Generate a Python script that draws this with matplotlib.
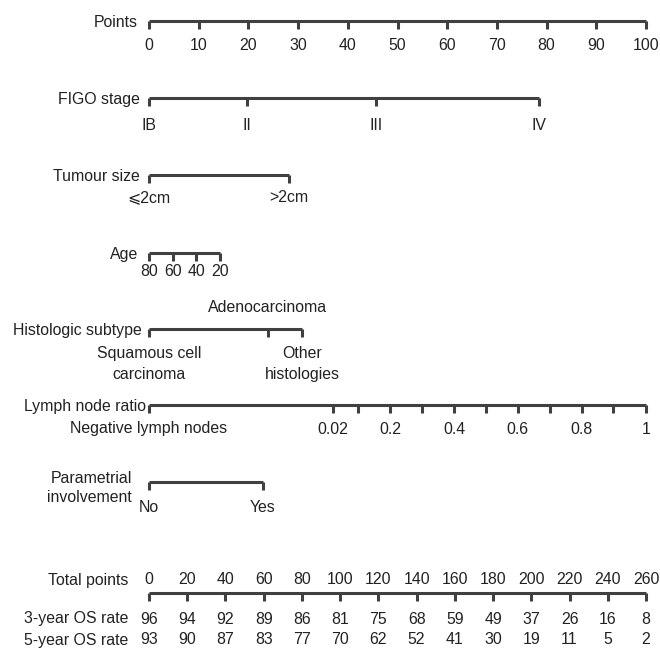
import matplotlib
matplotlib.use('Agg')
import matplotlib.pyplot as plt

plt.rcParams['font.family'] = ['Liberation Sans', 'DejaVu Sans']

# values (points scale 0-100)
points_ticks = [0, 10, 20, 30, 40, 50, 60, 70, 80, 90, 100]

figo_labels = ['IB', 'II', 'III', 'IV']
figo_points = [0, 19.7, 45.7, 78.5]

tumour_labels = ['\u2a7d2cm', '>2cm']
tumour_points = [0, 28.2]

age_labels = ['80', '60', '40', '20']
age_points = [0, 4.8, 9.5, 14.3]

histo_labels = ['Squamous cell\ncarcinoma', 'Adenocarcinoma', 'Other\nhistologies']
histo_points = [0, 23.9, 30.8]

lnr_ticks = [0.02, 0.1, 0.2, 0.3, 0.4, 0.5, 0.6, 0.7, 0.8, 0.9, 1.0]
lnr_points = [37.0, 42.1, 48.5, 54.9, 61.4, 67.8, 74.2, 80.7, 87.1, 93.4, 100]
lnr_labels = {0.02: '0.02', 0.2: '0.2', 0.4: '0.4', 0.6: '0.6', 0.8: '0.8', 1.0: '1'}

param_labels = ['No', 'Yes']
param_points = [0, 22.9]

total_points = [0, 20, 40, 60, 80, 100, 120, 140, 160, 180, 200, 220, 240, 260]
os3 = [96, 94, 92, 89, 86, 81, 75, 68, 59, 49, 37, 26, 16, 8]
os5 = [93, 90, 87, 83, 77, 70, 62, 52, 41, 30, 19, 11, 5, 2]
total_max = 260

LINE = '#404040'
TEXT = '#222222'
FS = 11.4
TICK = 8

fig = plt.figure(figsize=(6.6, 6.49), dpi=100)
ax = fig.add_axes([0, 0, 1, 1])
ax.set_xlim(-149 / 4.97, (660 - 149) / 4.97)
ax.set_ylim(649, 0)
ax.axis('off')

px = 1 / 4.97  # one pixel in point units


def scale(y, xs, xmax=None):
	x0 = min(xs)
	x1 = xmax if xmax is not None else max(xs)
	ax.plot([x0, x1], [y, y], color=LINE, lw=2.2, solid_capstyle='butt', zorder=2)
	ax.vlines(xs, y, y + TICK, color=LINE, lw=2.2, zorder=2)


def row_label(y, text, dx=9, **kw):
	ax.text(-dx * px, y, text, ha='right', va='center_baseline', fontsize=FS, color=TEXT, **kw)


def tick_labels(xs, labels, y, va='center', ls=1.25):
	for x, lab in zip(xs, labels):
		ax.text(x, y, lab, ha='center', va=va, fontsize=FS, color=TEXT, linespacing=ls)


# Points
y = 21
scale(y, points_ticks)
row_label(y, 'Points', dx=11)
tick_labels(points_ticks, [str(v) for v in points_ticks], y + 24)

# FIGO stage
y = 98
scale(y, figo_points)
row_label(y, 'FIGO stage')
tick_labels(figo_points, figo_labels, y + 27)

# Tumour size
y = 175
scale(y, tumour_points)
row_label(y, 'Tumour size')
tick_labels(tumour_points, tumour_labels, y + 23)

# Age
y = 253
scale(y, age_points)
row_label(y, 'Age', dx=11)
tick_labels(age_points, age_labels, y + 18)

# Histologic subtype
y = 329
scale(y, histo_points)
row_label(y, 'Histologic subtype', dx=7)
tick_labels([histo_points[1]], [histo_labels[1]], y - 22)
tick_labels([histo_points[0], histo_points[2]], [histo_labels[0], histo_labels[2]], y + 35,
	ls=1.5)

# Lymph node ratio
y = 405
scale(y, [0] + lnr_points)
row_label(y, 'Lymph node ratio', dx=3)
tick_labels([0], ['Negative lymph nodes'], y + 24)
lx = [p for r, p in zip(lnr_ticks, lnr_points) if r in lnr_labels]
tick_labels(lx, [lnr_labels[r] for r in lnr_ticks if r in lnr_labels], y + 24)

# Parametrial involvement
y = 482
scale(y, param_points)
ax.text(-17 * px, y + 6, 'Parametrial\ninvolvement', ha='right', va='center',
	fontsize=FS, color=TEXT, linespacing=1.3)
tick_labels(param_points, param_labels, y + 25)

# Total points and survival rates
y = 593
tx = [t * 100 / total_max for t in total_points]
scale(y, tx)
ax.text(-21 * px, y - 13, 'Total points', ha='right', va='center', fontsize=FS, color=TEXT)
tick_labels(tx, [str(t) for t in total_points], y - 13)
ax.text(-21 * px, y + 26, '3-year OS rate', ha='right', va='center', fontsize=FS, color=TEXT)
tick_labels(tx, [str(v) for v in os3], y + 26)
ax.text(-21 * px, y + 47, '5-year OS rate', ha='right', va='center', fontsize=FS, color=TEXT)
tick_labels(tx, [str(v) for v in os5], y + 47)

fig.savefig('out.png', dpi=100)
